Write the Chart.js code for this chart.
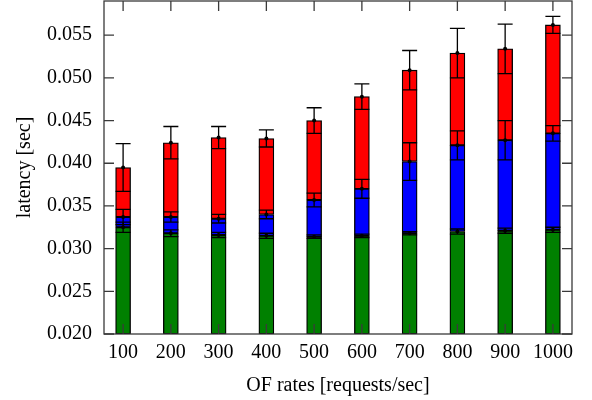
<!DOCTYPE html>
<html>
<head>
<meta charset="utf-8">
<script src="https://cdn.jsdelivr.net/npm/chart.js@4.4.0/dist/chart.umd.min.js"></script>
<style>
  html, body { margin: 0; padding: 0; background: #fff; }
</style>
</head>
<body>
<canvas id="myChart" width="592" height="400"></canvas>
<script>
// OF rates on the x axis
const rates = [100, 200, 300, 400, 500, 600, 700, 800, 900, 1000];
const yTicks = [0.020, 0.025, 0.030, 0.035, 0.040, 0.045, 0.050, 0.055];

// top of each coloured part (cumulative) and its error
const greenMean = [0.0325, 0.0318, 0.0316, 0.0315, 0.0314, 0.0315, 0.0318, 0.0320, 0.0321, 0.0322];
const greenErr = [0.0006, 0.0004, 0.0003, 0.0003, 0.0002, 0.0002, 0.0002, 0.0003, 0.0003, 0.0003];
const blueMean = [0.0337, 0.0337, 0.0335, 0.0340, 0.0357, 0.0370, 0.0402, 0.0421, 0.0427, 0.0435];
const blueErr = [0.0009, 0.0006, 0.0005, 0.0005, 0.0008, 0.0011, 0.0022, 0.0017, 0.0023, 0.0009];
const redMean = [0.0395, 0.0424, 0.0430, 0.0429, 0.0450, 0.0478, 0.0509, 0.0529, 0.0534, 0.0562];
const redErr = [0.0028, 0.0019, 0.0013, 0.0010, 0.0015, 0.0015, 0.0023, 0.0029, 0.0029, 0.0010];

const yMin = 0.020;
const yMax = 0.059;

Chart.defaults.font.family = "'Liberation Serif', 'Times New Roman', serif";
Chart.defaults.font.size = 20;
Chart.defaults.color = "#000";

function floating(lows, highs) {
  return rates.map((r, i) => ({ x: r, y: [lows[i], highs[i]] }));
}

// error bars with caps as wide as the box, plus a dot at the mean
const errorBars = {
  id: "errorBars",
  afterDatasetsDraw(chart) {
    const ctx = chart.ctx;
    const y = chart.scales.y;
    ctx.save();
    ctx.strokeStyle = "#000";
    ctx.fillStyle = "#000";
    ctx.lineWidth = 1.3;
    chart.data.datasets.forEach((ds, i) => {
      const meta = chart.getDatasetMeta(i);
      meta.data.forEach((bar, j) => {
        const hi = y.getPixelForValue(ds.mean[j] + ds.err[j]);
        const lo = y.getPixelForValue(ds.mean[j] - ds.err[j]);
        const half = bar.width / 2;
        ctx.beginPath();
        ctx.moveTo(bar.x, hi);
        ctx.lineTo(bar.x, lo);
        ctx.moveTo(bar.x - half, hi);
        ctx.lineTo(bar.x + half, hi);
        ctx.moveTo(bar.x - half, lo);
        ctx.lineTo(bar.x + half, lo);
        ctx.stroke();
        ctx.beginPath();
        ctx.arc(bar.x, y.getPixelForValue(ds.mean[j]), 2, 0, Math.PI * 2);
        ctx.fill();
      });
    });
    ctx.restore();
  },
};

// gnuplot style frame with inward ticks on all four sides
const frame = {
  id: "frame",
  afterDatasetsDraw(chart) {
    const ctx = chart.ctx;
    const a = chart.chartArea;
    const x = chart.scales.x;
    const y = chart.scales.y;
    const len = 10;
    ctx.save();
    ctx.strokeStyle = "#3a3a3a";
    ctx.lineWidth = 1.3;
    ctx.beginPath();
    yTicks.forEach((v) => {
      const py = y.getPixelForValue(v);
      ctx.moveTo(a.left, py);
      ctx.lineTo(a.left + len, py);
      ctx.moveTo(a.right, py);
      ctx.lineTo(a.right - len, py);
    });
    rates.forEach((v) => {
      const px = x.getPixelForValue(v);
      ctx.moveTo(px, a.bottom);
      ctx.lineTo(px, a.bottom - len);
      ctx.moveTo(px, a.top);
      ctx.lineTo(px, a.top + len);
    });
    ctx.stroke();
    ctx.strokeRect(a.left, a.top, a.right - a.left, a.bottom - a.top);
    ctx.restore();
  },
};

const barStyle = {
  borderColor: "#000",
  borderWidth: 1.3,
  borderSkipped: false,
  barThickness: 15,
  grouped: false,
};

new Chart(document.querySelector("#myChart"), {
  type: "bar",
  data: {
    datasets: [
      Object.assign({
        label: "green",
        data: floating(rates.map(() => yMin), greenMean),
        backgroundColor: "#008000",
        mean: greenMean,
        err: greenErr,
      }, barStyle),
      Object.assign({
        label: "blue",
        data: floating(greenMean, blueMean),
        backgroundColor: "#0000ff",
        mean: blueMean,
        err: blueErr,
      }, barStyle),
      Object.assign({
        label: "red",
        data: floating(blueMean, redMean),
        backgroundColor: "#ff0000",
        mean: redMean,
        err: redErr,
      }, barStyle),
    ],
  },
  options: {
    responsive: false,
    animation: false,
    layout: { padding: { top: 1, right: 20, left: 0, bottom: 0 } },
    plugins: {
      legend: { display: false },
      tooltip: { enabled: false },
    },
    scales: {
      x: {
        type: "linear",
        min: 60,
        max: 1040,
        offset: false,
        grid: { display: false, drawTicks: false },
        border: { display: false },
        afterBuildTicks: (scale) => {
          scale.ticks = rates.map((v) => ({ value: v }));
        },
        afterFit: (scale) => {
          scale.height = 66;
          scale.paddingLeft = 0;
          scale.paddingRight = 0;
        },
        ticks: {
          padding: 7,
          maxRotation: 0,
          autoSkip: false,
          callback: (v) => String(v),
        },
        title: {
          display: true,
          text: "OF rates [requests/sec]",
          padding: { top: 0, bottom: 2 },
        },
      },
      y: {
        min: yMin,
        max: yMax,
        grid: { display: false, drawTicks: false },
        border: { display: false },
        afterBuildTicks: (scale) => {
          scale.ticks = yTicks.map((v) => ({ value: v }));
        },
        afterFit: (scale) => {
          scale.width = 104;
          scale.paddingTop = 0;
          scale.paddingBottom = 0;
        },
        ticks: {
          padding: 12,
          callback: (v) => v.toFixed(3),
        },
        title: {
          display: true,
          text: "latency [sec]",
          padding: { top: 13, bottom: 0 },
        },
      },
    },
  },
  plugins: [errorBars, frame],
});
</script>
</body>
</html>
